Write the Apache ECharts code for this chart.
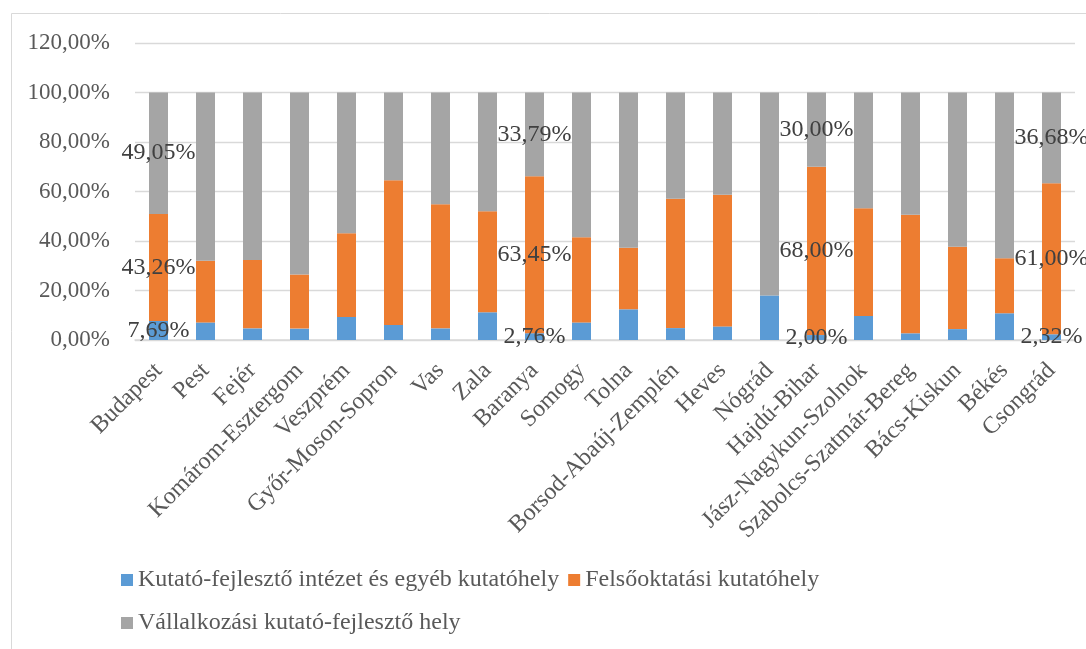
<!DOCTYPE html>
<html>
<head>
<meta charset="utf-8">
<script src="https://cdn.jsdelivr.net/npm/echarts@6/dist/echarts.min.js"></script>
<style>
html,body{margin:0;padding:0;background:#fff;}
#chart{width:1086px;height:649px;}
</style>
</head>
<body>
<div id="chart"></div>
<script>
const categories = ["Budapest","Pest","Fejér","Komárom-Esztergom","Veszprém","Győr-Moson-Sopron","Vas","Zala","Baranya","Somogy","Tolna","Borsod-Abaúj-Zemplén","Heves","Nógrád","Hajdú-Bihar","Jász-Nagykun-Szolnok","Szabolcs-Szatmár-Bereg","Bács-Kiskun","Békés","Csongrád"];
const seriesNames = ["Kutató-fejlesztő intézet és egyéb kutatóhely","Felsőoktatási kutatóhely","Vállalkozási kutató-fejlesztő hely"];
const kutatoIntezet = [7.69,7.1,4.7,4.6,9.3,6.1,4.7,11.2,2.76,7.1,12.4,4.8,5.5,18.0,2.00,9.7,2.7,4.4,10.8,2.32];
const felsooktatasi = [43.26,24.9,27.6,21.9,33.8,58.4,50.1,40.8,63.45,34.4,24.9,52.3,53.2,0,68.00,43.5,47.9,33.3,22.2,61.00];
const vallalkozasi = [49.05,68.0,67.7,73.5,56.9,35.5,45.2,48.0,33.79,58.5,62.7,42.9,41.3,82.0,30.00,46.8,49.4,62.3,67.0,36.68];
const labeledIdx = [0,8,14,19];
const yTicks = [0,20,40,60,80,100,120];

const colors = ['#5b9bd5','#ed7d31','#a5a5a5'];
const FONT = "'Liberation Serif','Times New Roman',serif";
const fmt = v => v.toFixed(2).replace('.', ',') + '%';

function mkSeries(name, vals, color){
  return {
    name: name, type: 'bar', stack: 'total', barWidth: 19,
    itemStyle: {color: color},
    label: {show:false, position:'inside', formatter: p => fmt(p.value), color:'#404040', fontSize:24, fontFamily:FONT},
    data: vals.map((v,i)=>({value:v, label:{show: labeledIdx.indexOf(i) >= 0}}))
  };
}

const chart = echarts.init(document.getElementById('chart'));
chart.setOption({
  animation:false,
  backgroundColor:'#fff',
  color: colors,
  textStyle:{fontFamily:FONT},
  graphic:[{type:'rect', shape:{x:11.5,y:13.5,width:1200,height:800}, style:{fill:'none', stroke:'#d9d9d9', lineWidth:1}, silent:true, z:-1}],
  grid:{left:135, right:11, top:43, bottom:309, containLabel:false},
  legend:{
    left:121, top:563, width:740, padding:0, itemGap:9, itemWidth:12, itemHeight:12,
    icon:'rect',
    textStyle:{fontSize:24, color:'#595959', fontFamily:FONT, lineHeight:34},
    data: seriesNames
  },
  xAxis:{
    type:'category', data: categories,
    axisLine:{lineStyle:{color:'#d9d9d9', width:1.5}},
    axisTick:{show:false},
    axisLabel:{rotate:45, fontSize:24, color:'#595959', fontFamily:FONT, margin:27, interval:0}
  },
  yAxis:{
    type:'value', min:yTicks[0], max:yTicks[yTicks.length-1], interval:20,
    axisLine:{show:false}, axisTick:{show:false},
    splitLine:{lineStyle:{color:'#d9d9d9', width:1.3}},
    axisLabel:{fontSize:23, color:'#595959', fontFamily:FONT, margin:25, formatter: v => fmt(v)}
  },
  series:[
    mkSeries(seriesNames[0], kutatoIntezet, colors[0]),
    mkSeries(seriesNames[1], felsooktatasi, colors[1]),
    mkSeries(seriesNames[2], vallalkozasi, colors[2])
  ]
});
</script>
</body>
</html>
